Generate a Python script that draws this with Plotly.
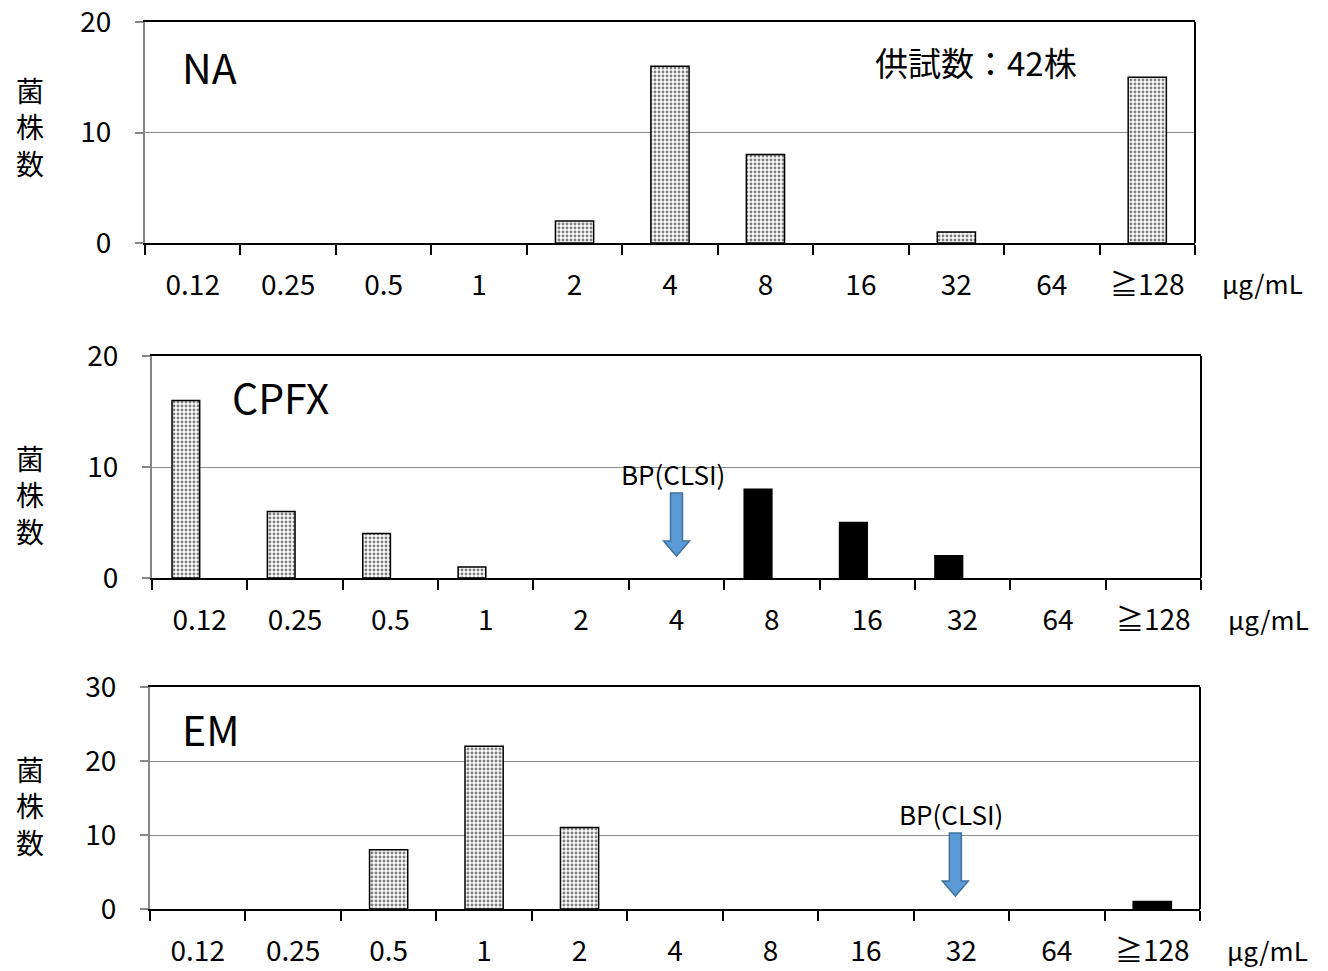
import plotly.graph_objects as go

W, H = 1328, 971
FONT = "Noto Sans CJK JP"

categories = ["0.12", "0.25", "0.5", "1", "2", "4", "8", "16", "32", "64", "≧128"]

na_counts = [0, 0, 0, 0, 2, 16, 8, 0, 1, 0, 15]
cpfx_susceptible = [16, 6, 4, 1, 0, 0, 0, 0, 0, 0, 0]
cpfx_resistant = [0, 0, 0, 0, 0, 0, 8, 5, 2, 0, 0]
em_susceptible = [0, 0, 8, 22, 11, 0, 0, 0, 0, 0, 0]
em_resistant = [0, 0, 0, 0, 0, 0, 0, 0, 0, 0, 1]

panel_titles = ["NA", "CPFX", "EM"]
y_ranges = [[0, 20], [0, 20], [0, 30]]
y_ticks = [[0, 10, 20], [0, 10, 20], [0, 10, 20, 30]]
n_label = "供試数：42株"
bp_text = "BP(CLSI)"
bp_categories = [None, "4", "32"]
unit_text = "μg/mL"
ylabel_text = "菌<br>株<br>数"

# pixel layout of each panel: (left, right, top, bottom)
panels_px = [(145, 1195, 22, 243), (152, 1201, 356, 578), (150, 1200, 687, 909)]
title_pos = [(0.033, 0.80), (0.074, 0.82), (0.029, 0.815)]
ylabel_center = [126, 494, 805]


def px_x(x):
    return x / W


def px_y(y):
    return 1 - y / H


def nz(vals):
    # zero counts are not drawn as bars
    return [v if v else None for v in vals]


fig = go.Figure()

dot_pattern = dict(shape=".", fgcolor="black", bgcolor="white", size=4, solidity=0.42)
edge = dict(color="black", width=1.5)

# Panel 1
fig.add_trace(go.Bar(x=categories, y=nz(na_counts), xaxis="x", yaxis="y", width=0.4,
                     marker=dict(color="white", pattern=dot_pattern, line=edge)))
# Panel 2
fig.add_trace(go.Bar(x=categories, y=nz(cpfx_susceptible), xaxis="x2", yaxis="y2", width=0.29, offset=-0.29,
                     marker=dict(color="white", pattern=dot_pattern, line=edge)))
fig.add_trace(go.Bar(x=categories, y=nz(cpfx_resistant), xaxis="x2", yaxis="y2", width=0.29, offset=-0.29,
                     marker=dict(color="black", line=edge)))
# Panel 3
fig.add_trace(go.Bar(x=categories, y=nz(em_susceptible), xaxis="x3", yaxis="y3", width=0.4,
                     marker=dict(color="white", pattern=dot_pattern, line=edge)))
fig.add_trace(go.Bar(x=categories, y=nz(em_resistant), xaxis="x3", yaxis="y3", width=0.4,
                     marker=dict(color="black", line=edge)))

layout = dict(
    width=W, height=H, margin=dict(l=0, r=0, t=0, b=0, autoexpand=False),
    paper_bgcolor="white", plot_bgcolor="white",
    showlegend=False, barmode="overlay",
    font=dict(family=FONT, color="black"),
)

shapes = []
annotations = []
for i, (l, r, t, b) in enumerate(panels_px):
    sfx = "" if i == 0 else str(i + 1)
    layout["xaxis" + sfx] = dict(
        domain=[px_x(l), px_x(r)], anchor="y" + sfx, type="category", automargin=False,
        range=[-0.5, 10.5], showline=True, linecolor="black", linewidth=2, mirror=True,
        ticks="outside", tickson="boundaries", ticklen=10, tickcolor="black", tickwidth=1.5,
        tickfont=dict(size=28, family=FONT), ticklabelstandoff=16, showgrid=False,
        ticklabeloverflow="allow", fixedrange=True,
    )
    layout["yaxis" + sfx] = dict(
        domain=[px_y(b), px_y(t)], anchor="x" + sfx, range=y_ranges[i], tickvals=y_ticks[i],
        automargin=False, ticklabeloverflow="allow",
        showline=True, linecolor="#868686", linewidth=2, ticks="outside", ticklen=8,
        tickcolor="#868686", tickwidth=1.5, showgrid=True, gridcolor="#8c8c8c", gridwidth=1,
        zeroline=False, tickfont=dict(size=28, family=FONT), ticklabelstandoff=18,
        fixedrange=True,
    )
    # right border
    shapes.append(dict(type="line", xref="x" + sfx + " domain", yref="y" + sfx + " domain",
                       x0=1, x1=1, y0=0, y1=1, line=dict(color="black", width=2)))
    # panel title
    tx, ty = title_pos[i]
    annotations.append(dict(text=panel_titles[i], xref="x" + sfx + " domain", yref="y" + sfx + " domain",
                            x=tx, y=ty, xanchor="left", yanchor="middle", showarrow=False,
                            font=dict(size=41, family=FONT)))
    # unit label
    annotations.append(dict(text=unit_text, xref="paper", yref="paper", x=px_x(r + 67), y=px_y(b + 40),
                            xanchor="center", yanchor="middle", showarrow=False,
                            font=dict(size=26, family=FONT)))
    # y label (stacked characters)
    annotations.append(dict(text=ylabel_text, xref="paper", yref="paper", x=px_x(30),
                            y=px_y(ylabel_center[i]), xanchor="center", yanchor="middle",
                            showarrow=False, font=dict(size=28, family=FONT)))
    # BP arrow
    if bp_categories[i] is not None:
        idx = categories.index(bp_categories[i])
        catw = (r - l) / len(categories)
        cx = l + (idx + 0.5) * catw - (0 if i == 1 else 6)
        top = b - 85 if i == 1 else b - 76
        head = top + 48
        tip = top + 63
        sw, hw = 6, 13
        pts = [(cx - sw, top), (cx + sw, top), (cx + sw, head), (cx + hw, head), (cx, tip),
               (cx - hw, head), (cx - sw, head)]
        path = "M " + " L ".join(f"{px_x(x):.5f},{px_y(y):.5f}" for x, y in pts) + " Z"
        shapes.append(dict(type="path", xref="paper", yref="paper", path=path,
                           fillcolor="#5B9BD5", line=dict(color="#41719C", width=1.5)))
        annotations.append(dict(text=bp_text, xref="paper", yref="paper", x=px_x(cx - 4),
                                y=px_y(top - 20), xanchor="center", yanchor="middle",
                                showarrow=False, font=dict(size=26, family=FONT)))

annotations.append(dict(text=n_label, xref="paper", yref="paper", x=px_x(976), y=px_y(62),
                        xanchor="center", yanchor="middle", showarrow=False,
                        font=dict(size=33, family=FONT)))

layout["shapes"] = shapes
layout["annotations"] = annotations
fig.update_layout(**layout)

fig.write_html("out.html")
